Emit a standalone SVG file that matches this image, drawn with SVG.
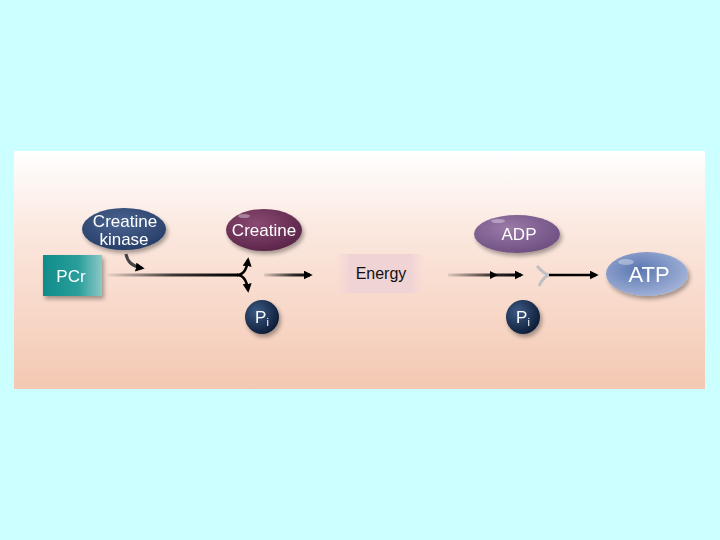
<svg xmlns="http://www.w3.org/2000/svg" width="720" height="540" viewBox="0 0 720 540">
<defs>
<linearGradient id="panel" x1="0" y1="0" x2="0" y2="1"><stop offset="0" stop-color="#ffffff"/><stop offset="0.35" stop-color="#fbe7de"/><stop offset="1" stop-color="#f4c8b2"/></linearGradient>
<linearGradient id="pcr" x1="0" y1="0" x2="1" y2="0"><stop offset="0" stop-color="#0f8c8a"/><stop offset="0.6" stop-color="#2a9e9b"/><stop offset="1" stop-color="#8cc8c6"/></linearGradient>
<radialGradient id="ck" cx="0.45" cy="0.35" r="0.7"><stop offset="0" stop-color="#4a6590"/><stop offset="1" stop-color="#253b66"/></radialGradient>
<radialGradient id="cr" cx="0.4" cy="0.35" r="0.7"><stop offset="0" stop-color="#8a4a72"/><stop offset="1" stop-color="#5a2448"/></radialGradient>
<radialGradient id="adp" cx="0.4" cy="0.35" r="0.7"><stop offset="0" stop-color="#9a7aa8"/><stop offset="1" stop-color="#6e4e80"/></radialGradient>
<radialGradient id="atp" cx="0.4" cy="0.4" r="0.7"><stop offset="0" stop-color="#5a76b0"/><stop offset="1" stop-color="#a9b8dc"/></radialGradient>
<radialGradient id="pi" cx="0.35" cy="0.35" r="0.7"><stop offset="0" stop-color="#3d5a85"/><stop offset="1" stop-color="#0d1c36"/></radialGradient>
<linearGradient id="en" x1="0" y1="0" x2="1" y2="0"><stop offset="0" stop-color="#f6d9d6" stop-opacity="0.3"/><stop offset="0.15" stop-color="#efd3d5"/><stop offset="0.85" stop-color="#efd3d5"/><stop offset="1" stop-color="#f6d9d6" stop-opacity="0.3"/></linearGradient>
<linearGradient id="g1" gradientUnits="userSpaceOnUse" x1="107" y1="0" x2="238" y2="0"><stop offset="0" stop-color="#000" stop-opacity="0.05"/><stop offset="0.5" stop-color="#000" stop-opacity="0.75"/><stop offset="1" stop-color="#000"/></linearGradient>
<linearGradient id="g2" gradientUnits="userSpaceOnUse" x1="264" y1="0" x2="312" y2="0"><stop offset="0" stop-color="#000" stop-opacity="0.1"/><stop offset="0.6" stop-color="#000" stop-opacity="0.8"/><stop offset="1" stop-color="#000"/></linearGradient>
<linearGradient id="g3" gradientUnits="userSpaceOnUse" x1="448" y1="0" x2="523" y2="0"><stop offset="0" stop-color="#000" stop-opacity="0.1"/><stop offset="0.6" stop-color="#000" stop-opacity="0.8"/><stop offset="1" stop-color="#000"/></linearGradient>
<filter id="sh" x="-30%" y="-30%" width="160%" height="160%"><feGaussianBlur in="SourceAlpha" stdDeviation="2"/><feOffset dx="2" dy="3"/><feComponentTransfer><feFuncA type="linear" slope="0.35"/></feComponentTransfer><feMerge><feMergeNode/><feMergeNode in="SourceGraphic"/></feMerge></filter>
<marker id="ah" viewBox="0 0 10 10" refX="7" refY="5" markerWidth="9" markerHeight="9" orient="auto" markerUnits="userSpaceOnUse"><path d="M0,0 L10,5 L0,10 z" fill="#000"/></marker>
<style>
.lbl{font-family:"Liberation Sans",Arial,sans-serif;fill:#ffffff;text-anchor:middle}
.arr{stroke:#000;stroke-width:2.5;fill:none}
</style>
</defs>
<rect width="720" height="540" fill="#ccffff"/>
<rect x="14" y="151" width="691" height="238" fill="url(#panel)"/>

<g id="connectors">
<path d="M107,275 H238" stroke="url(#g1)" stroke-width="3" fill="none"/>
<path d="M237,275 Q246,275 248,260" class="arr" marker-end="url(#ah)"/>
<path d="M237,275 Q246,275 248,290" class="arr" marker-end="url(#ah)"/>
<path d="M126,254 Q128,266 142,268" stroke="#444" stroke-width="3" fill="none" marker-end="url(#ah)"/>
<path d="M264,275 H310" stroke="url(#g2)" stroke-width="3" fill="none" marker-end="url(#ah)"/>
<path d="M448,275 H521" stroke="url(#g3)" stroke-width="3" fill="none" marker-end="url(#ah)"/>
<path d="M490,271 L498,275 L490,279 z" fill="#000"/>
<path d="M537,266 Q544,274 549,275 Q544,276 539,286" stroke="#c0c0c0" stroke-width="3" fill="none"/>
<path d="M549,275 H596" stroke="#000" stroke-width="2.5" fill="none" marker-end="url(#ah)"/>
</g>

<g id="pcr" filter="url(#sh)">
<rect x="43" y="255" width="59" height="41" fill="url(#pcr)"/>
<text class="lbl" x="71" y="282" font-size="17">PCr</text>
</g>
<g id="creatine-kinase" filter="url(#sh)">
<ellipse cx="124" cy="229" rx="42" ry="21" fill="url(#ck)"/>
<text class="lbl" x="125" y="227" font-size="17">Creatine</text>
<text class="lbl" x="124" y="245" font-size="17">kinase</text>
</g>
<g id="creatine" filter="url(#sh)">
<ellipse cx="264" cy="230" rx="38" ry="21" fill="url(#cr)"/>
<ellipse cx="244" cy="216" rx="6" ry="2" fill="#fff" opacity="0.35"/>
<text class="lbl" x="264" y="236" font-size="17">Creatine</text>
</g>
<g id="pi1" filter="url(#sh)">
<circle cx="262" cy="317" r="17" fill="url(#pi)"/>
<text class="lbl" x="262" y="323" font-size="17">P<tspan font-size="11" dy="3">i</tspan></text>
</g>
<g id="energy">
<rect x="338" y="254" width="85" height="39" fill="url(#en)"/>
<text x="381" y="279" font-family="Liberation Sans,Arial,sans-serif" font-size="16" fill="#111" text-anchor="middle">Energy</text>
</g>
<g id="adp" filter="url(#sh)">
<ellipse cx="517" cy="234" rx="43" ry="19" fill="url(#adp)"/>
<ellipse cx="498" cy="221" rx="7" ry="2" fill="#fff" opacity="0.35"/>
<text class="lbl" x="519" y="240" font-size="17">ADP</text>
</g>
<g id="pi2" filter="url(#sh)">
<circle cx="523" cy="317" r="17" fill="url(#pi)"/>
<text class="lbl" x="523" y="323" font-size="17">P<tspan font-size="11" dy="3">i</tspan></text>
</g>
<g id="atp" filter="url(#sh)">
<ellipse cx="647" cy="274" rx="41" ry="22" fill="url(#atp)"/>
<ellipse cx="626" cy="262" rx="8" ry="3" fill="#fff" opacity="0.35"/>
<text class="lbl" x="649" y="282" font-size="22">ATP</text>
</g>
</svg>
